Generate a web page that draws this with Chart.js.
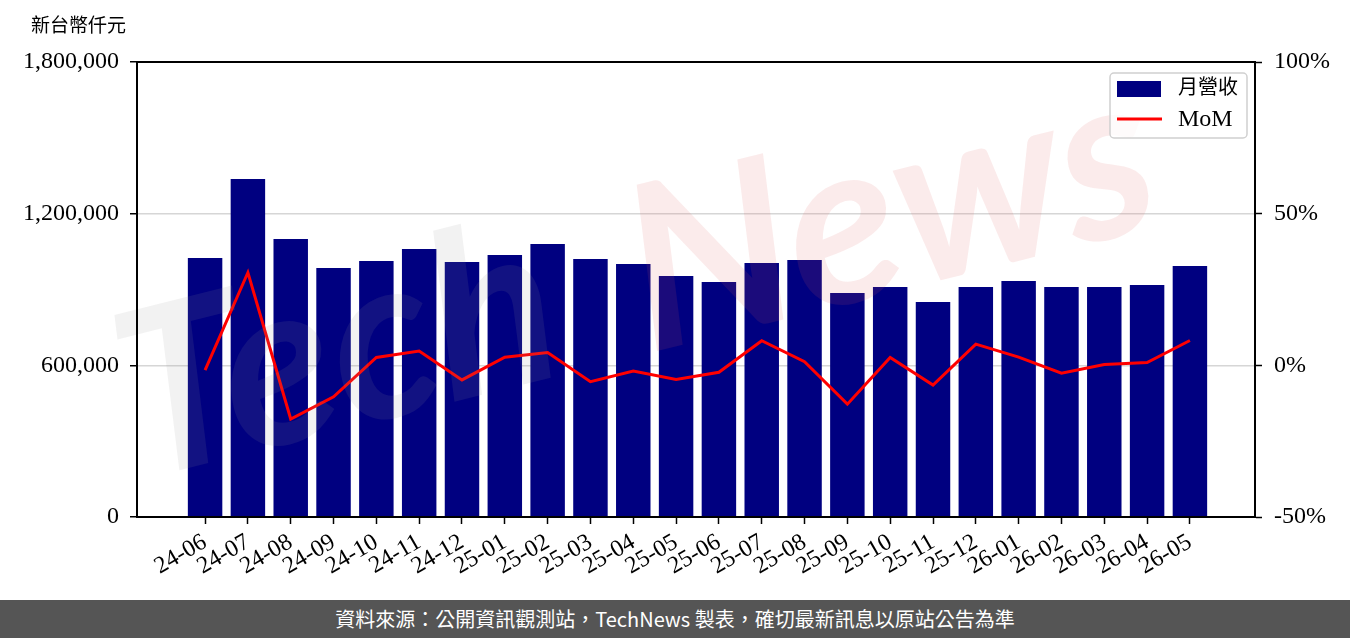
<!DOCTYPE html>
<html>
<head>
<meta charset="utf-8">
<script src="https://cdn.jsdelivr.net/npm/chart.js@4.4.1/dist/chart.umd.min.js"></script>
<style>
  html, body { margin: 0; padding: 0; background: #fff; }
  #wrap { position: relative; width: 1350px; height: 600px; }
  #footer {
    width: 1350px; height: 38px; background: #555555; color: #fff;
    font-family: "Noto Sans CJK TC", "Noto Sans", sans-serif; font-size: 20px;
    text-align: center; line-height: 38px;
  }
</style>
</head>
<body>
<div id="wrap"><canvas id="mycanvas" width="1350" height="600"></canvas></div>
<div id="footer">資料來源：公開資訊觀測站，TechNews 製表，確切最新訊息以原站公告為準</div>
<script>
// months shown on the x axis
var months = ['24-06', '24-07', '24-08', '24-09', '24-10', '24-11', '24-12',
              '25-01', '25-02', '25-03', '25-04', '25-05', '25-06', '25-07',
              '25-08', '25-09', '25-10', '25-11', '25-12', '26-01', '26-02',
              '26-03', '26-04', '26-05'];
// monthly revenue, thousand NTD
var revenue = [1024600, 1337100, 1099800, 985000, 1012700, 1060200, 1008800,
               1036500, 1080000, 1020700, 1000900, 953400, 929700, 1004800,
               1016700, 886200, 909900, 850500, 909900, 933600, 909900,
               909900, 917800, 993000];
// month over month, %
var mom = [-1.6, 30.6, -17.7, -10.4, 2.6, 4.7, -4.8, 2.7, 4.2, -5.4, -1.9, -4.7,
           -2.3, 8.1, 1.2, -12.8, 2.6, -6.5, 7.0, 2.7, -2.6, 0.3, 0.9, 8.2];
var leftTicks = [0, 600000, 1200000, 1800000];
var rightTicks = [-50, 0, 50, 100];

var serif = '"Liberation Serif", "DejaVu Serif", serif';
var tickFont = { family: serif, size: 24 };

var barData = [];
var lineData = [];
for (var i in months) {
	barData.push({ x: Number(i), y: revenue[i] });
	lineData.push({ x: Number(i), y: mom[i] });
}

var extras = {
	id: 'extras',
	afterDraw: function(chart) {
		var ctx = chart.ctx;
		var a = chart.chartArea;
		ctx.save();

		// watermark
		ctx.save();
		ctx.translate(140, 480);
		ctx.rotate(-14 * Math.PI / 180);
		ctx.font = 'italic bold 230px Lato, "Open Sans", sans-serif';
		ctx.textBaseline = 'alphabetic';
		ctx.fillStyle = 'rgba(150, 150, 150, 0.12)';
		ctx.fillText('Tech', 0, 0);
		var w = ctx.measureText('Tech').width;
		ctx.fillStyle = 'rgba(225, 90, 90, 0.12)';
		ctx.fillText('News', w + 80, 0);
		ctx.restore();

		// frame
		ctx.strokeStyle = '#000';
		ctx.lineWidth = 2;
		ctx.strokeRect(a.left, a.top, a.right - a.left, a.bottom - a.top);

		// unit
		ctx.fillStyle = '#000';
		ctx.font = '19px ' + serif + ', "Noto Sans CJK TC"';
		ctx.textBaseline = 'middle';
		ctx.textAlign = 'left';
		ctx.fillText('新台幣仟元', 31, 27);

		// legend
		var lx = 1110, ly = 73, lw = 137, lh = 65;
		ctx.beginPath();
		ctx.roundRect(lx, ly, lw, lh, 4);
		ctx.fillStyle = 'rgba(255,255,255,0.8)';
		ctx.fill();
		ctx.strokeStyle = '#d0d0d0';
		ctx.lineWidth = 1.5;
		ctx.stroke();
		ctx.fillStyle = '#000080';
		ctx.fillRect(1117, 81, 44, 16);
		ctx.strokeStyle = '#ff0000';
		ctx.lineWidth = 3;
		ctx.beginPath();
		ctx.moveTo(1117, 119);
		ctx.lineTo(1162, 119);
		ctx.stroke();
		ctx.fillStyle = '#000';
		ctx.font = '20px ' + serif + ', "Noto Sans CJK TC"';
		ctx.fillText('月營收', 1178, 89);
		ctx.font = '24px ' + serif;
		ctx.fillText('MoM', 1178, 120);

		ctx.restore();
	}
};

var ctx = document.getElementById('mycanvas');

var chart = new Chart(ctx, {
	type: 'bar',
	data: {
		datasets: [
			{
				type: 'line',
				label: 'MoM',
				data: lineData,
				yAxisID: 'y2',
				borderColor: '#ff0000',
				borderWidth: 3,
				pointRadius: 0,
				tension: 0,
				order: 0
			},
			{
				label: '月營收',
				data: barData,
				yAxisID: 'y',
				backgroundColor: '#000080',
				borderWidth: 0,
				barPercentage: 0.805,
				categoryPercentage: 1.0,
				order: 1
			}
		]
	},
	options: {
		responsive: false,
		animation: false,
		layout: { padding: { top: 62, left: 0, right: 0, bottom: 0 } },
		plugins: {
			legend: { display: false },
			tooltip: { enabled: false }
		},
		scales: {
			x: {
				type: 'linear',
				offset: false,
				min: -1.59,
				max: 24.52,
				afterBuildTicks: function(scale) {
					scale.ticks = months.map(function(m, i) { return { value: i }; });
				},
				afterFit: function(scale) { scale.height = 83; },
				grid: {
					drawOnChartArea: false,
					offset: false,
					tickColor: '#000',
					tickLength: 7,
					tickWidth: 1.5
				},
				border: { color: '#000', width: 2 },
				ticks: {
					autoSkip: false,
					minRotation: 30,
					maxRotation: 30,
					padding: 4,
					color: '#000',
					font: tickFont,
					callback: function(v) { return months[v]; }
				}
			},
			y: {
				position: 'left',
				min: 0,
				max: 1800000,
				afterBuildTicks: function(scale) {
					scale.ticks = leftTicks.map(function(v) { return { value: v }; });
				},
				afterFit: function(scale) { scale.width = 137; },
				grid: {
					color: function(c) {
						var v = c.tick && c.tick.value;
						return (v === 0 || v === 1800000) ? 'rgba(0,0,0,0)' : '#d6d6d6';
					},
					lineWidth: 1.5,
					tickColor: '#000',
					tickLength: 7,
					tickWidth: 1.5
				},
				border: { color: '#000', width: 2 },
				ticks: {
					padding: 11,
					color: '#000',
					font: tickFont,
					callback: function(v) { return v.toLocaleString('en-US'); }
				}
			},
			y2: {
				position: 'right',
				min: -50,
				max: 100,
				afterBuildTicks: function(scale) {
					scale.ticks = rightTicks.map(function(v) { return { value: v }; });
				},
				afterFit: function(scale) { scale.width = 95; },
				grid: {
					drawOnChartArea: false,
					tickColor: '#000',
					tickLength: 7,
					tickWidth: 1.5
				},
				border: { color: '#000', width: 2 },
				ticks: {
					padding: 12,
					color: '#000',
					font: tickFont,
					callback: function(v) { return v + '%'; }
				}
			}
		}
	},
	plugins: [extras]
});
</script>
</body>
</html>
